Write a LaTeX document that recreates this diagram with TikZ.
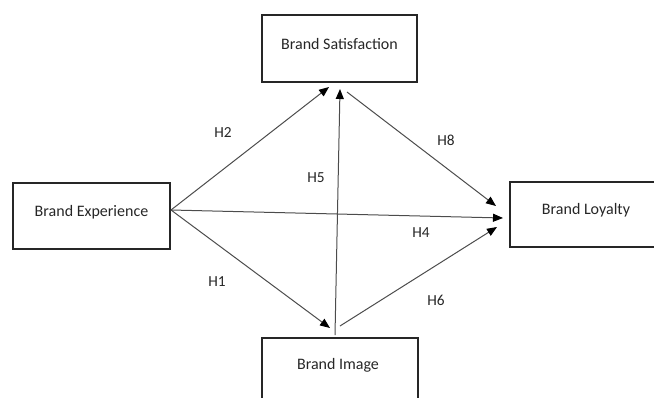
\documentclass[tikz,border=0pt]{standalone}
\usepackage{fontspec}
\setmainfont{Carlito}
\usetikzlibrary{arrows.meta}
\begin{document}
\begin{tikzpicture}[x=0.75pt,y=-0.75pt,
  box/.style={draw=black!85,line width=1.5pt,rectangle,inner sep=0pt},
  btxt/.style={font=\fontsize{12}{14}\selectfont,text=black!85},
  conn/.style={draw=black!70,line width=0.75pt,-{Triangle[length=7.5pt,width=6pt,color=black]}},
  hlab/.style={font=\fontsize{11.5}{13}\selectfont,text=black!85}]
\useasboundingbox (0,0) rectangle (654,397);
\node[box,minimum width=155*0.75pt,minimum height=67*0.75pt] (sat) at (339.5,48.5) {};
\node[btxt] (sattxt) at (339.5,44) {Brand Satisfaction};
\node[box,minimum width=157*0.75pt,minimum height=66*0.75pt] (exp) at (91.5,216) {};
\node[btxt] (exptxt) at (91.5,212) {Brand Experience};
\node[box,minimum width=152*0.75pt,minimum height=65*0.75pt] (loy) at (586,214.5) {};
\node[btxt] (loytxt) at (586,210) {Brand Loyalty};
\node[box,minimum width=156*0.75pt,minimum height=66*0.75pt] (img) at (340,370.5) {};
\node[btxt] (imgtxt) at (338,365) {Brand Image};
\coordinate (es) at (171,210);
\coordinate (t2) at (329,87);
\coordinate (t1) at (330,328);
\coordinate (t4) at (503,218);
\coordinate (s5) at (335,335);
\coordinate (t5) at (340,89);
\coordinate (s8) at (347,92);
\coordinate (t8) at (496,206);
\coordinate (s6) at (340,326);
\coordinate (t6) at (497,227);
\draw[conn] (es) -- (t2);
\draw[conn] (es) -- (t1);
\draw[conn] (es) -- (t4);
\draw[conn] (s5) -- (t5);
\draw[conn] (s8) -- (t8);
\draw[conn] (s6) -- (t6);
\node[hlab] (h2) at (223,133) {H2};
\node[hlab] (h5) at (316,178) {H5};
\node[hlab] (h8) at (446,140) {H8};
\node[hlab] (h4) at (421,233) {H4};
\node[hlab] (h6) at (436,300) {H6};
\node[hlab] (h1) at (217,282) {H1};
\end{tikzpicture}
\end{document}
